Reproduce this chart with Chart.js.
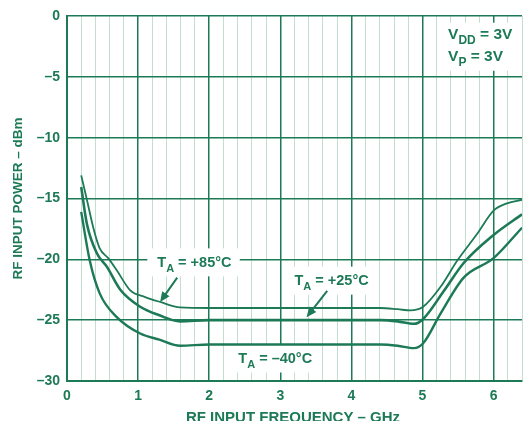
<!DOCTYPE html>
<html lang="en">
<head>
<meta charset="utf-8">
<title>RF Input Power vs Frequency</title>
<script src="https://cdn.jsdelivr.net/npm/chart.js"></script>
<style>
  html, body { margin: 0; padding: 0; background: #fff; }
  #wrap { width: 524px; height: 421px; }
</style>
</head>
<body>
<div id="wrap"><canvas id="myChart" width="524" height="421"></canvas></div>
<script>
// data (GHz, dBm)
const freq85 = [0.2, 0.28, 0.37, 0.46, 0.58, 0.7, 0.89, 1.1, 1.31, 1.59, 2, 3, 4, 4.41, 4.65, 4.83, 5.01, 5.25, 5.49, 5.77, 6.0, 6.19, 6.4];
const power85 = [-13.1, -15.1, -17.4, -19.1, -19.9, -20.9, -22.55, -23.1, -23.5, -23.95, -24, -24, -24, -24, -24.1, -24.2, -23.9, -22.3, -20.1, -17.9, -16.0, -15.4, -15.1];

const freq25 = [0.2, 0.28, 0.42, 0.56, 0.75, 1.03, 1.3, 1.59, 2, 3, 4, 4.41, 4.65, 4.88, 5.01, 5.3, 5.58, 6.0, 6.4];
const power25 = [-14.05, -17.1, -19.5, -20.6, -22.5, -23.9, -24.6, -25.1, -25, -25, -25, -25, -25.1, -25.3, -24.9, -22.6, -20.3, -18.0, -16.3];

const freqM40 = [0.2, 0.32, 0.46, 0.7, 1.03, 1.3, 1.59, 2, 3, 4, 4.41, 4.65, 4.88, 5.01, 5.25, 5.58, 6.0, 6.4];
const powerM40 = [-16.1, -20.1, -22.8, -24.75, -26.1, -26.6, -27.1, -27, -27, -27, -27, -27.1, -27.3, -26.9, -24.5, -21.5, -19.9, -17.4];

const xTickLabels = ['0', '1', '2', '3', '4', '5', '6'];
const yTickLabels = ['0', '–5', '–10', '–15', '–20', '–25', '–30'];

const GREEN = '#1d7a57';
const LIGHT = '#c4ddd1';
const FONT = '"Liberation Sans", Arial, sans-serif';

const pts = (xs, ys) => xs.map((x, i) => ({ x: x, y: ys[i] }));
const isMajor = v => Math.abs(v - Math.round(v)) < 1e-6;

// labels, subscripts and arrows drawn on top
const overlay = {
  id: 'overlay',
  beforeDatasetsDraw(chart) {
    const ctx = chart.ctx;
    const xs = chart.scales.x, ys = chart.scales.y;
    ctx.save();
    ctx.fillStyle = '#fff';
    // white patches behind labels
    const boxes = [
      [1.13, -19.1, 2.43, -21.4],
      [3.06, -20.6, 4.30, -22.9],
      [2.27, -27.0, 3.55, -29.3],
      [5.27, -0.55, 6.38, -4.5]
    ];
    boxes.forEach(b => {
      const x0 = xs.getPixelForValue(b[0]), y0 = ys.getPixelForValue(b[1]);
      const x1 = xs.getPixelForValue(b[2]), y1 = ys.getPixelForValue(b[3]);
      ctx.fillRect(x0, y0, x1 - x0, y1 - y0);
    });
    ctx.restore();
  },
  afterDatasetsDraw(chart) {
    const ctx = chart.ctx;
    const xs = chart.scales.x, ys = chart.scales.y;
    const ca = chart.chartArea;
    ctx.save();
    ctx.fillStyle = GREEN;
    ctx.strokeStyle = GREEN;
    ctx.textBaseline = 'alphabetic';

    function subText(x, y, main, sub, rest, size) {
      let px = xs.getPixelForValue(x), py = ys.getPixelForValue(y);
      ctx.font = 'bold ' + size + 'px ' + FONT;
      ctx.fillText(main, px, py);
      px += ctx.measureText(main).width;
      ctx.font = 'bold ' + Math.round(size * 0.78) + 'px ' + FONT;
      ctx.fillText(sub, px, py + size * 0.35);
      px += ctx.measureText(sub).width;
      ctx.font = 'bold ' + size + 'px ' + FONT;
      ctx.fillText(rest, px, py);
    }
    subText(1.27, -20.66, 'T', 'A', ' = +85°C', 14.5);
    subText(3.20, -22.14, 'T', 'A', ' = +25°C', 14.5);
    subText(2.41, -28.48, 'T', 'A', ' = –40°C', 14.5);
    subText(5.36, -1.89, 'V', 'DD', ' = 3V', 15.5);
    subText(5.36, -3.70, 'V', 'P', ' = 3V', 15.5);

    function arrow(x0, y0, x1, y1) {
      const ax = xs.getPixelForValue(x0), ay = ys.getPixelForValue(y0);
      const bx = xs.getPixelForValue(x1), by = ys.getPixelForValue(y1);
      const ang = Math.atan2(by - ay, bx - ax);
      const len = 10, wid = 4.5;
      ctx.lineWidth = 2;
      ctx.beginPath();
      ctx.moveTo(ax, ay);
      ctx.lineTo(bx - Math.cos(ang) * len * 0.8, by - Math.sin(ang) * len * 0.8);
      ctx.stroke();
      ctx.beginPath();
      ctx.moveTo(bx, by);
      ctx.lineTo(bx - Math.cos(ang) * len - Math.sin(ang) * wid, by - Math.sin(ang) * len + Math.cos(ang) * wid);
      ctx.lineTo(bx - Math.cos(ang) * len + Math.sin(ang) * wid, by - Math.sin(ang) * len - Math.cos(ang) * wid);
      ctx.closePath();
      ctx.fill();
    }
    arrow(1.55, -21.5, 1.31, -23.5);
    arrow(3.66, -22.6, 3.37, -24.75);

    // axis titles
    ctx.textAlign = 'center';
    ctx.textBaseline = 'middle';
    ctx.font = 'bold 15px ' + FONT;
    ctx.fillText('RF INPUT FREQUENCY – GHz', 293, ca.bottom + 37);
    ctx.font = 'bold 13.5px ' + FONT;
    ctx.translate(18, (ca.top + ca.bottom) / 2);
    ctx.rotate(-Math.PI / 2);
    ctx.fillText('RF INPUT POWER – dBm', 0, 0);
    ctx.restore();
  }
};

const ctx = document.getElementById('myChart').getContext('2d');
const myChart = new Chart(ctx, {
  type: 'line',
  data: {
    datasets: [
      { label: '+85°C', data: pts(freq85, power85), borderColor: GREEN, borderWidth: 1.8 },
      { label: '+25°C', data: pts(freq25, power25), borderColor: GREEN, borderWidth: 2.6 },
      { label: '–40°C', data: pts(freqM40, powerM40), borderColor: GREEN, borderWidth: 2.4 }
    ]
  },
  options: {
    responsive: false,
    animation: false,
    elements: {
      point: { radius: 0 },
      line: { cubicInterpolationMode: 'monotone', fill: false }
    },
    layout: { padding: { left: 0, top: 16, right: 2, bottom: 0 } },
    plugins: { legend: { display: false }, tooltip: { enabled: false } },
    scales: {
      x: {
        type: 'linear',
        min: 0,
        max: 6.4,
        afterBuildTicks(scale) {
          const t = [];
          for (let i = 0; i <= 32; i++) t.push({ value: Math.round(i * 2) / 10 });
          scale.ticks = t;
        },
        afterFit(scale) {
          scale.height = 40;
          scale.paddingLeft = 0;
          scale.paddingRight = 0;
        },
        grid: {
          drawTicks: false,
          color: c => isMajor(c.tick.value) ? GREEN : LIGHT,
          lineWidth: c => isMajor(c.tick.value) ? 1.5 : 1
        },
        border: { display: true, color: GREEN, width: 2 },
        ticks: {
          autoSkip: false,
          maxRotation: 0,
          padding: 7,
          color: GREEN,
          font: { family: FONT, size: 14, weight: 'bold' },
          callback: v => isMajor(v) ? xTickLabels[Math.round(v)] : ''
        }
      },
      y: {
        min: -30,
        max: 0,
        afterBuildTicks(scale) {
          scale.ticks = yTickLabels.map((s, i) => ({ value: -5 * i }));
        },
        afterFit(scale) { scale.width = 67; },
        grid: { drawTicks: false, color: GREEN, lineWidth: 1.5 },
        border: { display: true, color: GREEN, width: 2 },
        ticks: {
          padding: 7,
          color: GREEN,
          font: { family: FONT, size: 14, weight: 'bold' },
          callback: v => yTickLabels[Math.round(-v / 5)]
        }
      }
    }
  },
  plugins: [overlay]
});
</script>
</body>
</html>
